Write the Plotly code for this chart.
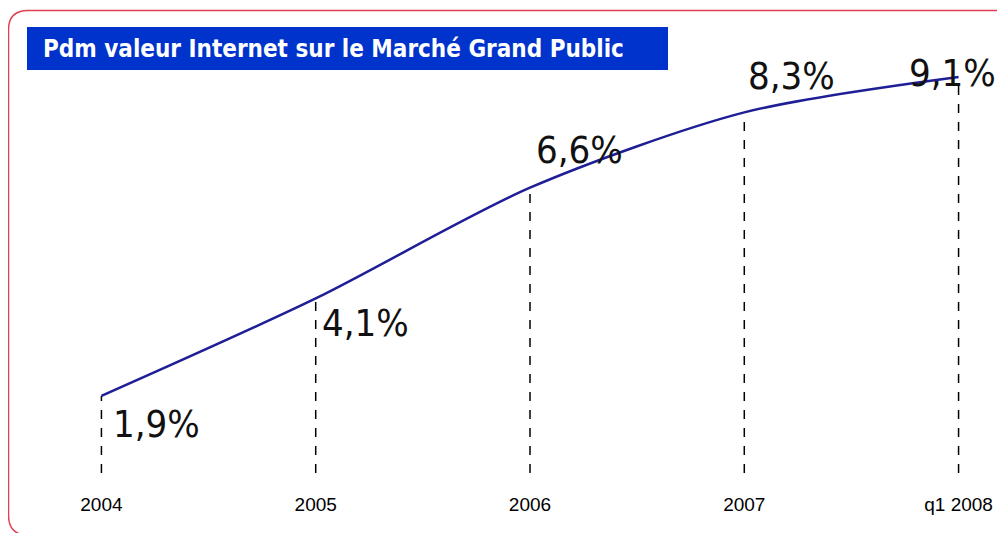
import plotly.graph_objects as go

periods = ["2004", "2005", "2006", "2007", "q1 2008"]
share = [1.9, 4.1, 6.6, 8.3, 9.1]
labels = ["1,9%", "4,1%", "6,6%", "8,3%", "9,1%"]
label_shift_x = [55, 50, 49, 47, -6]
label_shift_y = [-28, -25, 38, 36, 4]
title = "Pdm valeur Internet sur le Marché Grand Public"

xs = list(range(len(periods)))
Y0, Y1 = 0.16, 10.16

OFF = 8  # page body margin
W, H = 997, 525
L, R, T = 80 - OFF, 25, 30 - OFF
B = H - (473 - OFF)
pw, ph = W - L - R, H - T - B


def px(x):
    return (x - OFF - L) / pw


def py(y):
    return (H - B - (y - OFF)) / ph


fig = go.Figure()
fig.add_trace(go.Scatter(
    x=xs, y=share, mode="lines",
    line=dict(color="#1e1e96", width=2.5, shape="spline", smoothing=0.8),
    hoverinfo="skip", showlegend=False,
))

shapes = []
for x, v in zip(xs, share):
    shapes.append(dict(type="line", xref="x", yref="y", x0=x, x1=x, y0=Y0, y1=v,
                       line=dict(color="black", width=1.5, dash="dash"), layer="below"))

# red rounded frame
path = (f"M {px(8.5)},{py(515)} Q {px(8.5)},{py(535)} {px(28)},{py(535)} L {px(1020)},{py(535)} "
        f"M {px(8.5)},{py(515)} L {px(8.5)},{py(30)} Q {px(8.5)},{py(10.5)} {px(28)},{py(10.5)} L {px(1020)},{py(10.5)}")
shapes.append(dict(type="path", xref="paper", yref="paper", path=path,
                   line=dict(color="#e0404f", width=1.5)))
# title box
shapes.append(dict(type="rect", xref="paper", yref="paper",
                   x0=px(27), x1=px(668), y0=py(70), y1=py(27),
                   fillcolor="#0033cc", line=dict(width=0)))

annotations = [dict(xref="paper", yref="paper", x=px(41), y=py(49), xanchor="left", yanchor="middle",
                    text=f"<b>{title}</b>", showarrow=False,
                    font=dict(family="DejaVu Sans Condensed", size=24, color="white"))]
for x, v, t, sx, sy in zip(xs, share, labels, label_shift_x, label_shift_y):
    annotations.append(dict(x=x, y=v, xref="x", yref="y", text=t, showarrow=False,
                            xanchor="center", yanchor="middle", xshift=sx, yshift=sy,
                            font=dict(family="DejaVu Sans Condensed", size=38, color="#111111")))

fig.update_layout(
    width=W, height=H,
    margin=dict(l=L, r=R, t=T, b=B),
    paper_bgcolor="white", plot_bgcolor="white",
    xaxis=dict(range=[-0.1, 4.1], tickvals=xs, ticktext=periods, showgrid=False, zeroline=False,
               showline=False, ticks="outside", ticklen=14, tickcolor="rgba(0,0,0,0)",
               tickfont=dict(family="Liberation Sans", size=19, color="black")),
    yaxis=dict(range=[Y0, Y1], visible=False),
    shapes=shapes, annotations=annotations,
)

fig.write_html("out.html")
